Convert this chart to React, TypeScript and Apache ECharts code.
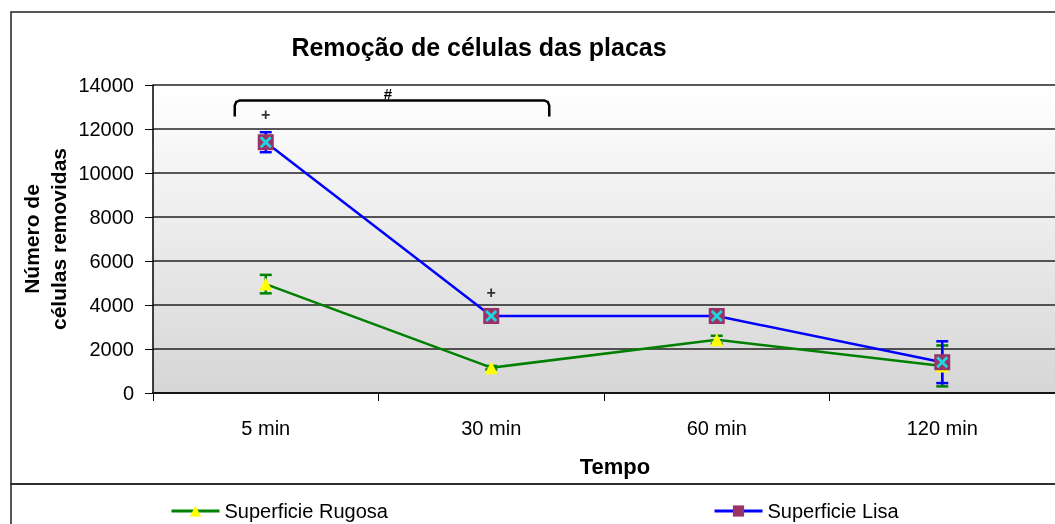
import React, { useEffect, useRef } from "react";
import * as echarts from "echarts";

const categories = ["5 min", "30 min", "60 min", "120 min"];
const rugosaName = "Superficie Rugosa";
const lisaName = "Superficie Lisa";
const rugosa = [4950, 1150, 2420, 1230];
const rugosaErr = [420, 80, 180, 930];
const lisa = [11400, 3500, 3500, 1400];
const lisaErr = [455, 100, 80, 950];
// significance marks ("+") above points
const markCats = [0, 1];
const markValues = [12650, 4560];
const markText = "+";
// bracket between 5 min and 30 min
const bracket = [[0, 1, 13300]];
const bracketText = "#";
const yTicks = [0, 2000, 4000, 6000, 8000, 10000, 12000, 14000];

const FONT = "'Liberation Sans', Arial, sans-serif";
const X_PATH =
  "path://M2,0 L6,4 L10,0 L12,2 L8,6 L12,10 L10,12 L6,8 L2,12 L0,10 L4,6 L0,2 Z";

function errorSeries(name: string, vals: number[], errs: number[], color: string) {
  return {
    type: "custom",
    name: name + " err",
    z: 1,
    silent: true,
    clip: false,
    data: vals.map((v, i) => [i, v - errs[i], v + errs[i]]),
    renderItem: (_p: any, api: any) => {
      const x = api.value(0);
      const lo = api.coord([x, api.value(1)]);
      const hi = api.coord([x, api.value(2)]);
      const w = 6;
      const st = { stroke: color, lineWidth: 2.5 };
      return {
        type: "group",
        children: [
          { type: "line", shape: { x1: hi[0], y1: hi[1], x2: lo[0], y2: lo[1] }, style: st },
          { type: "line", shape: { x1: hi[0] - w, y1: hi[1], x2: hi[0] + w, y2: hi[1] }, style: st },
          { type: "line", shape: { x1: lo[0] - w, y1: lo[1], x2: lo[0] + w, y2: lo[1] }, style: st },
        ],
      };
    },
  };
}

export default function App() {
  const ref = useRef<HTMLDivElement>(null);
  useEffect(() => {
    if (!ref.current) return;
    const chart = echarts.init(ref.current, null, { renderer: "svg" });
    const legendBase = {
      top: 496,
      itemWidth: 48,
      itemHeight: 14,
      itemGap: 0,
      lineStyle: { width: 3 },
      textStyle: { fontSize: 20, color: "#000", fontFamily: FONT },
    };
    const option: any = {
      animation: false,
      textStyle: { fontFamily: FONT },
      grid: {
        left: 153,
        right: 0,
        top: 85,
        bottom: 131,
        show: true,
        borderWidth: 0,
        backgroundColor: new echarts.graphic.LinearGradient(0, 0, 0, 1, [
          { offset: 0, color: "#ffffff" },
          { offset: 1, color: "#d6d6d6" },
        ]),
      },
      xAxis: {
        type: "category",
        data: categories,
        boundaryGap: true,
        axisLine: { lineStyle: { color: "#000", width: 1.5 } },
        axisTick: { show: true, length: 8, alignWithLabel: false, lineStyle: { color: "#000" } },
        axisLabel: { fontSize: 20, color: "#000", margin: 25, fontFamily: FONT },
        name: "Tempo",
        nameLocation: "middle",
        nameGap: 62,
        nameMoveOverlap: false,
        nameTextStyle: {
          fontSize: 22,
          fontWeight: "bold",
          color: "#000",
          fontFamily: FONT,
          padding: [0, 0, 0, 22],
        },
      },
      yAxis: {
        type: "value",
        min: yTicks[0],
        max: yTicks[yTicks.length - 1],
        interval: 2000,
        axisLine: { show: true, lineStyle: { color: "#000", width: 1.5 } },
        axisTick: { show: true, length: 8, lineStyle: { color: "#000" } },
        axisLabel: {
          fontSize: 20,
          color: "#000",
          margin: 19,
          fontFamily: FONT,
          formatter: (v: number) => String(v),
        },
        splitLine: { show: true, lineStyle: { color: "#222", width: 1.5 } },
        name: "Número de\ncélulas removidas",
        nameLocation: "middle",
        nameRotate: 90,
        nameGap: 81,
        nameMoveOverlap: false,
        nameTextStyle: {
          fontSize: 21,
          fontWeight: "bold",
          color: "#000",
          fontFamily: FONT,
          lineHeight: 27,
        },
      },
      legend: [
        { ...legendBase, data: [rugosaName], left: 165 },
        { ...legendBase, data: [lisaName], left: 708 },
      ],
      graphic: [
        {
          type: "rect",
          shape: { x: 11, y: 12, width: 1100, height: 472 },
          style: { fill: "none", stroke: "#222", lineWidth: 1.5 },
          silent: true,
        },
        {
          type: "rect",
          shape: { x: 11, y: 484, width: 1100, height: 100 },
          style: { fill: "none", stroke: "#222", lineWidth: 1.5 },
          silent: true,
        },
        {
          type: "text",
          x: 479,
          y: 47,
          style: {
            text: "Remoção de células das placas",
            fontSize: 25,
            fontWeight: "bold",
            fontFamily: FONT,
            fill: "#000",
            align: "center",
            verticalAlign: "middle",
          },
        },
      ],
      series: [
        errorSeries(rugosaName, rugosa, rugosaErr, "#008000"),
        errorSeries(lisaName, lisa, lisaErr, "#0000ff"),
        {
          type: "line",
          name: rugosaName,
          data: rugosa,
          z: 3,
          lineStyle: { color: "#008000", width: 2.5 },
          itemStyle: { color: "#ffff00" },
          symbol: "triangle",
          symbolSize: 13,
        },
        {
          type: "line",
          name: lisaName,
          data: lisa,
          z: 4,
          lineStyle: { color: "#0000ff", width: 2.5 },
          itemStyle: { color: "#993366" },
          symbol: "rect",
          symbolSize: 16,
        },
        {
          type: "scatter",
          name: lisaName + " x",
          data: lisa,
          z: 5,
          symbol: X_PATH,
          symbolSize: 12,
          itemStyle: { color: "#00ffff" },
          silent: true,
        },
        {
          type: "scatter",
          name: "marks",
          z: 6,
          data: markCats.map((c, i) => [c, markValues[i]]),
          symbolSize: 0,
          silent: true,
          label: {
            show: true,
            position: "inside",
            formatter: () => markText,
            fontSize: 16,
            fontWeight: "bold",
            color: "#000",
            fontFamily: FONT,
          },
        },
        {
          type: "custom",
          name: "bracket",
          z: 6,
          silent: true,
          clip: false,
          data: bracket,
          renderItem: (_p: any, api: any) => {
            const a = api.coord([api.value(0), api.value(2)]);
            const b = api.coord([api.value(1), api.value(2)]);
            const x1 = a[0] - 31;
            const x2 = b[0] + 58;
            const y = a[1];
            const st = { stroke: "#000", lineWidth: 2.5, fill: "none" };
            return {
              type: "group",
              children: [
                {
                  type: "polyline",
                  shape: {
                    points: [
                      [x1, y + 16],
                      [x1, y + 5],
                      [x1 + 1.5, y + 1.5],
                      [x1 + 5, y],
                      [x2 - 5, y],
                      [x2 - 1.5, y + 1.5],
                      [x2, y + 5],
                      [x2, y + 16],
                    ],
                  },
                  style: st,
                },
                {
                  type: "text",
                  x: (x1 + x2) / 2 - 4,
                  y: y - 7,
                  style: {
                    text: bracketText,
                    fontSize: 15,
                    fontWeight: "bold",
                    fontFamily: FONT,
                    fill: "#000",
                    align: "center",
                    verticalAlign: "middle",
                  },
                },
              ],
            };
          },
        },
      ],
    };
    chart.setOption(option);
    return () => chart.dispose();
  }, []);
  return (
    <div
      ref={ref}
      style={{ position: "fixed", left: 0, top: 0, width: 1055, height: 524 }}
    />
  );
}
